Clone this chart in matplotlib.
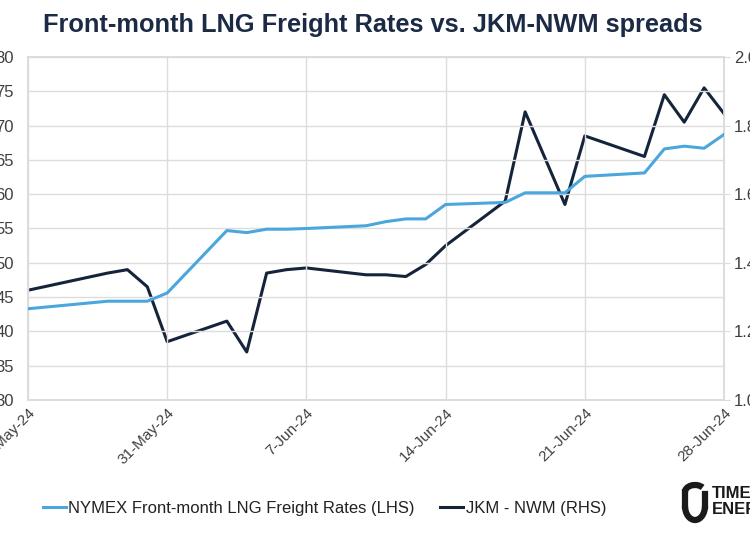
import matplotlib
matplotlib.use("Agg")
import matplotlib.pyplot as plt
import matplotlib.dates as mdates
from matplotlib.lines import Line2D
from matplotlib.patches import Arc
import pandas as pd

# Data
dates = ["2024-05-24", "2024-05-28", "2024-05-29", "2024-05-30", "2024-05-31",
         "2024-06-03", "2024-06-04", "2024-06-05", "2024-06-06", "2024-06-07",
         "2024-06-10", "2024-06-11", "2024-06-12", "2024-06-13", "2024-06-14",
         "2024-06-17", "2024-06-18", "2024-06-20", "2024-06-21",
         "2024-06-24", "2024-06-25", "2024-06-26", "2024-06-27", "2024-06-28"]
freight = [43.3, 44.4, 44.4, 44.4, 45.6,
           54.7, 54.4, 54.9, 54.9, 55.0,
           55.4, 56.0, 56.4, 56.4, 58.5,
           58.8, 60.2, 60.2, 62.6,
           63.1, 66.6, 67.0, 66.7, 68.7]
jkm_nwm = [1.32, 1.37, 1.38, 1.33, 1.17,
           1.23, 1.14, 1.37, 1.38, 1.385,
           1.365, 1.365, 1.36, 1.395, 1.45,
           1.58, 1.84, 1.57, 1.77,
           1.71, 1.89, 1.81, 1.91, 1.835]
tick_dates = ["2024-05-24", "2024-05-31", "2024-06-07", "2024-06-14", "2024-06-21", "2024-06-28"]

x = pd.to_datetime(dates)
ticks = pd.to_datetime(tick_dates)

LBLUE = "#4ba6de"
NAVY = "#16243b"
GRID = "#dcdcdc"
TXT = "#404040"
plt.rcParams["font.family"] = ["Liberation Sans", "DejaVu Sans"]

W, H = 750, 536
fig = plt.figure(figsize=(7.5, 5.36), dpi=100, facecolor="white")
ax = fig.add_axes([28 / W, 1 - 400 / H, (724 - 28) / W, (400 - 57) / H])
ax2 = ax.twinx()

l1, = ax.plot(x, freight, color=LBLUE, lw=2.2, zorder=3)
l2, = ax2.plot(x, jkm_nwm, color=NAVY, lw=2.2, zorder=3)

ax.set_xlim(ticks[0], ticks[-1])
ax.set_ylim(30, 80)
ax.set_yticks(range(30, 81, 5))
ax2.set_ylim(1.0, 2.0)
ax2.set_yticks([1.0, 1.2, 1.4, 1.6, 1.8, 2.0])
ax2.yaxis.set_major_formatter(matplotlib.ticker.FormatStrFormatter("%.1f"))
ax.set_xticks(ticks)
ax.xaxis.set_major_formatter(mdates.DateFormatter("%-d-%b-%y"))

ax.grid(True, color=GRID, lw=1)
for a in (ax, ax2):
    for s in a.spines.values():
        s.set_color(GRID)
        s.set_linewidth(1.2)
ax.tick_params(axis="y", length=0, pad=10, labelsize=12, labelcolor=TXT)
ax2.tick_params(axis="y", length=4, color=GRID, pad=3, labelsize=12, labelcolor=TXT)
ax.tick_params(axis="x", length=0, pad=4, labelsize=11, labelcolor=TXT)
plt.setp(ax.get_xticklabels(), rotation=45, ha="right", rotation_mode="anchor")
ax.set_zorder(ax2.get_zorder() + 1)
ax.patch.set_visible(False)

fig.text(0.497, 1 - 25 / H, "Front-month LNG Freight Rates vs. JKM-NWM spreads",
         ha="center", va="center", fontsize=18.3, fontweight="bold", color="#1c2b45")

fig.legend([l1, l2], ["NYMEX Front-month LNG Freight Rates (LHS)", "JKM - NWM (RHS)"],
           loc="center left", bbox_to_anchor=(0.048, 1 - 508 / H), ncol=2,
           frameon=False, handlelength=1.4, handletextpad=0.15, columnspacing=1.5,
           fontsize=12, labelcolor="#222222", borderaxespad=0)

# Logo (cropped at the right edge)
fig.text(712 / W, 1 - 494 / H, "TIMERA", fontsize=12, fontweight="bold",
         color="#1a1a1a", va="center", ha="left")
fig.text(712 / W, 1 - 509 / H, "ENERGY", fontsize=12, fontweight="bold",
         color="#1a1a1a", va="center", ha="left")
px = lambda u, v: (u / W, 1 - v / H)
fig.add_artist(Arc(px(695, 506), 20 / W, 28 / H, theta1=180, theta2=360,
                   transform=fig.transFigure, lw=4.5, color="#1a1a1a"))
fig.add_artist(Line2D([685 / W, 685 / W], [1 - 506 / H, 1 - 492 / H],
                      transform=fig.transFigure, lw=4.5, color="#1a1a1a"))
fig.add_artist(Line2D([705 / W, 705 / W], [1 - 506 / H, 1 - 494 / H],
                      transform=fig.transFigure, lw=4.5, color="#1a1a1a"))
fig.add_artist(Arc(px(695, 492), 20 / W, 14 / H, theta1=40, theta2=180,
                   transform=fig.transFigure, lw=4.5, color="#1a1a1a"))

fig.savefig("out.png", dpi=100, facecolor="white")
